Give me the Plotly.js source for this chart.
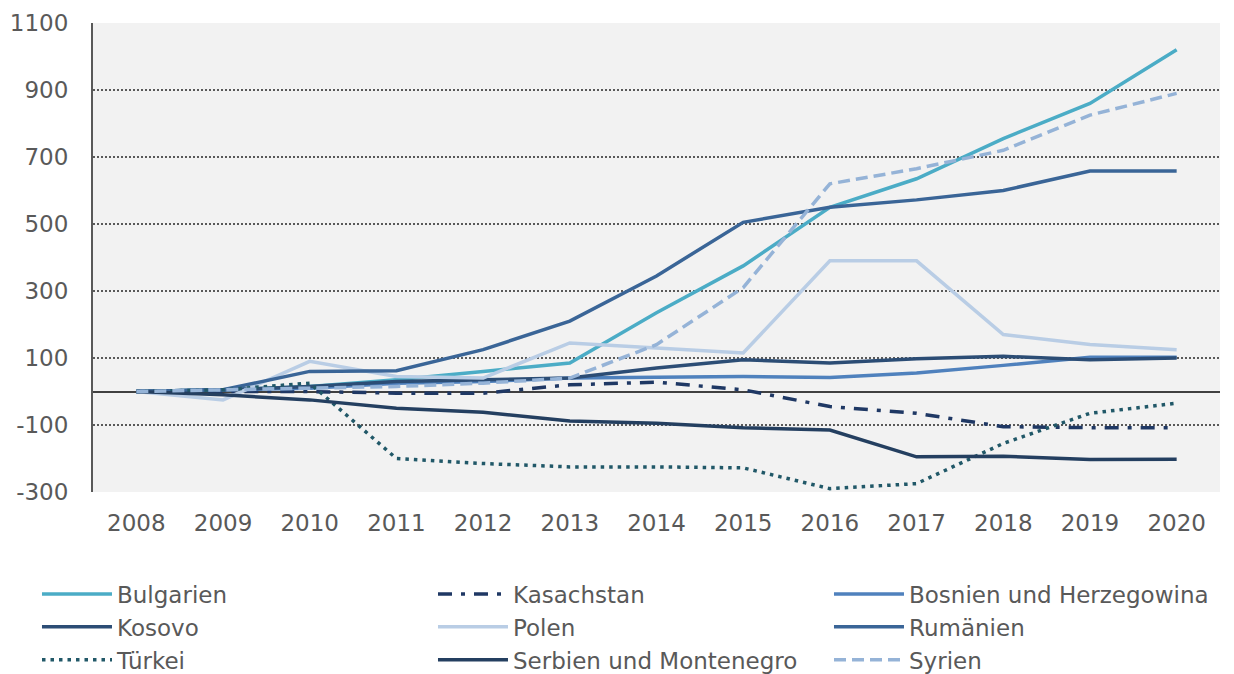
<!DOCTYPE html>
<html><head><meta charset="utf-8">
<script src="https://cdn.plot.ly/plotly-3.0.1.min.js"></script>
<style>body{margin:0;background:#fff}#c{width:1234px;height:674px}</style>
</head><body><div id="c"></div>
<script>
const years = ['2008','2009','2010','2011','2012','2013','2014','2015','2016','2017','2018','2019','2020'];
const bulgarien = [0,5,15,35,60,85,235,375,550,635,755,860,1020];
const kasachstan = [0,0,0,-5,-5,20,28,5,-45,-65,-105,-108,-108];
const bosnien = [0,5,10,25,30,40,42,45,42,55,78,102,102];
const kosovo = [0,5,15,30,35,40,70,95,85,98,105,95,100];
const polen = [0,-25,90,45,40,145,130,115,390,390,170,140,125];
const rumaenien = [0,5,60,62,125,210,345,505,550,572,600,658,658];
const tuerkei = [0,5,25,-200,-215,-225,-225,-228,-290,-275,-155,-65,-35];
const serbien = [0,-10,-25,-50,-62,-88,-95,-108,-115,-195,-193,-203,-202];
const syrien = [0,5,8,15,25,40,140,310,620,665,720,825,890];
const yTicks = [-300,-100,100,300,500,700,900,1100];

const font = 'Verdana, "DejaVu Sans", sans-serif';
function tr(name, y, color, dash) {
  return {type:'scatter', mode:'lines', x:years, y:y, name:name,
    line:{color:color, width:3.5, dash:dash||'solid'}};
}
const data = [
  tr('Bulgarien', bulgarien, '#4bacc6'),
  tr('Kasachstan', kasachstan, '#1f3864', '14px,9px,4px,9px'),
  tr('Bosnien und Herzegowina', bosnien, '#4f81bd'),
  tr('Kosovo', kosovo, '#2c4d75'),
  tr('Polen', polen, '#b9cde5'),
  tr('Rumänien', rumaenien, '#3a6597'),
  tr('Türkei', tuerkei, '#215868', '3.5px,5px'),
  tr('Serbien und Montenegro', serbien, '#243f60'),
  tr('Syrien', syrien, '#95b3d7', '12px,6px')
];
const layout = {
  width:1234, height:674,
  margin:{l:93, r:14, t:23, b:182, autoexpand:false},
  paper_bgcolor:'#ffffff', plot_bgcolor:'#f2f2f2',
  font:{family:font, size:23, color:'#595959'},
  showlegend:true,
  xaxis:{type:'category', range:[-0.5,12.5], showgrid:false, zeroline:false,
    showline:false, ticks:'', ticklabelstandoff:15, tickfont:{size:23, color:'#595959'}},
  yaxis:{range:[-300,1100], tickvals:yTicks, ticktext:yTicks.map(String),
    showgrid:true, gridcolor:'#595959', griddash:'2px,2px', gridwidth:1.5,
    zeroline:true, zerolinecolor:'#404040', zerolinewidth:2,
    showline:true, linecolor:'#595959', linewidth:2, ticks:'',
    ticklabelstandoff:18, tickfont:{size:23, color:'#595959'}},
  legend:{orientation:'h', x:-0.0497, xanchor:'left', y:-0.1715, yanchor:'top',
    entrywidth:311, entrywidthmode:'pixels', font:{size:23, color:'#595959'},
    itemwidth:70, bgcolor:'rgba(0,0,0,0)'}
};
Plotly.newPlot('c', data, layout, {displayModeBar:false, staticPlot:true});
</script></body></html>
